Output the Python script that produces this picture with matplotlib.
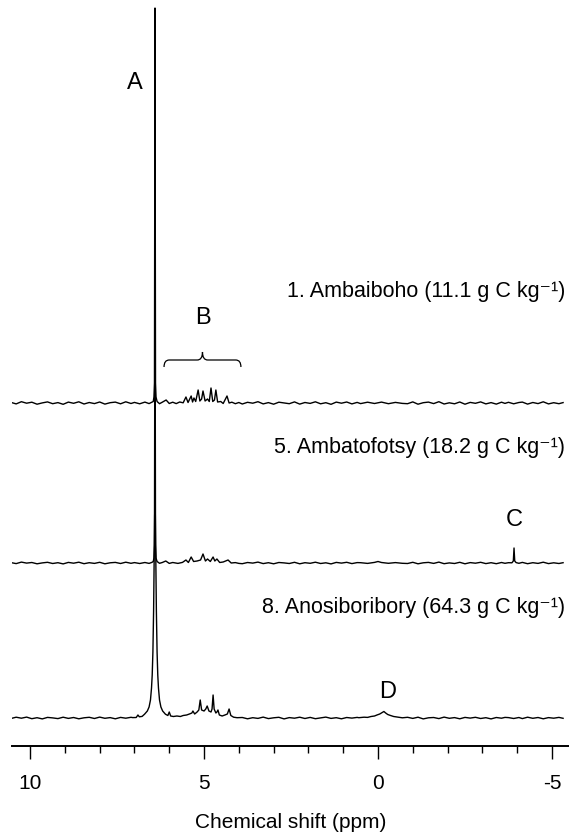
import numpy as np
import matplotlib
matplotlib.use("Agg")
import matplotlib.pyplot as plt
from matplotlib.ticker import MultipleLocator
from matplotlib.path import Path
from matplotlib.patches import PathPatch

plt.rcParams['font.family'] = ['Liberation Sans', 'DejaVu Sans']
plt.rcParams['axes.unicode_minus'] = False

# шумовая базовая линия (общие точки по ppm вне областей пиков)
base_ppm = [10.55, 10.4, 10.25, 10.1, 9.95, 9.8, 9.65, 9.5, 9.35, 9.2, 9.05, 8.9,
            8.75, 8.6, 8.45, 8.3, 8.15, 8.0, 7.85, 7.7, 7.55, 7.4, 7.25, 7.1,
            3.9, 3.75, 3.6, 3.45, 3.3, 3.15, 3.0, 2.85, 2.7, 2.55, 2.4, 2.25,
            2.1, 1.95, 1.8, 1.65, 1.5, 1.35, 1.2, 1.05, 0.9, 0.75, 0.6,
            -0.85, -1.0, -1.15, -1.3, -1.45, -1.6, -1.75, -1.9, -2.05, -2.2,
            -2.35, -2.5, -2.65, -2.8, -2.95, -3.1, -3.25, -3.4, -3.55, -3.65,
            -4.15, -4.3, -4.45, -4.6, -4.75, -4.9, -5.05, -5.2, -5.32]

base_1 = [0.6, -0.9, 1.3, -0.2, 0.8, -1.2, 0.1, 1.1, -0.7, 0.4, -1.3, 0.9,
          -0.3, 1.2, -1.0, 0.5, -0.6, 1.0, -1.1, 0.3, 0.9, -0.8, 1.2, -0.5,
          -1.0, 0.7, -0.2, 1.3, -0.9, 0.4, -1.2, 0.8, 0.1, -0.7, 1.1, -1.1,
          0.5, -0.4, 1.2, -0.8, 0.3, -1.3, 0.9, -0.2, 1.0, -0.9, 0.6,
          -0.7, 1.1, -1.2, 0.3, 0.9, -0.6, 1.3, -1.0, 0.2, -0.8,
          1.0, -1.2, 0.6, -0.3, 1.1, -0.9, 0.4, -1.1, 0.8, -0.4,
          0.9, -1.1, 0.5, -0.6, 1.2, -0.9, 0.3, -0.7, 0.4]
base_2 = [0.4, -0.6, 0.9, -0.1, 0.5, -0.8, 0.1, 0.7, -0.5, 0.3, -0.9, 0.6,
          -0.2, 0.8, -0.7, 0.3, -0.4, 0.7, -0.8, 0.2, 0.6, -0.5, 0.8, -0.3,
          -0.7, 0.5, -0.1, 0.9, -0.6, 0.3, -0.8, 0.5, 0.1, -0.5, 0.7, -0.8,
          0.3, -0.3, 0.8, -0.5, 0.2, -0.9, 0.6, -0.1, 0.7, -0.6, 0.4,
          -0.5, 0.7, -0.8, 0.2, 0.6, -0.4, 0.9, -0.7, 0.1, -0.5,
          0.7, -0.8, 0.4, -0.2, 0.7, -0.6, 0.3, -0.7, 0.5, -0.3,
          0.6, -0.7, 0.3, -0.4, 0.8, -0.6, 0.2, -0.5, 0.3]
base_3 = [-0.5, 0.8, -0.2, 0.9, -0.7, 0.3, -0.9, 0.6, 0.1, -0.6, 0.8, -0.4,
          0.5, -0.8, 0.2, 0.7, -0.5, 0.9, -0.3, 0.4, -0.8, 0.6, -0.2, 0.7,
          0.5, -0.8, 0.3, -0.4, 0.9, -0.6, 0.2, 0.7, -0.9, 0.4, -0.2, 0.8,
          -0.5, 0.6, -0.7, 0.1, 0.9, -0.4, 0.3, -0.8, 0.5, -0.1, 0.6,
          0.7, -0.4, 0.8, -0.9, 0.2, 0.5, -0.6, 0.9, -0.3, 0.4,
          -0.8, 0.6, -0.1, 0.7, -0.5, 0.3, -0.9, 0.5, -0.2, 0.6,
          -0.6, 0.8, -0.3, 0.5, -0.8, 0.4, -0.2, 0.6, -0.3]

# 1. Ambaiboho: пики A, B
peak_ppm_1 = [7.0, 6.85, 6.7, 6.58, 6.5, 6.46, 6.44, 6.425, 6.41, 6.395, 6.38, 6.35,
              6.28, 6.2, 6.09, 6.0, 5.9, 5.8, 5.7, 5.6, 5.52, 5.46, 5.37, 5.33,
              5.29, 5.24, 5.17, 5.12, 5.07, 5.03, 4.97, 4.9, 4.85, 4.8, 4.75, 4.7,
              4.66, 4.61, 4.52, 4.45, 4.34, 4.28, 4.2, 4.1, 4.0,
              0.5, 0.3, 0.1, -0.1, -0.3, -0.5, -0.7,
              -3.75, -3.9, -4.05]
peak_int_1 = [0.6, -0.8, 0.9, -0.6, 0.8, 1.5, 6, 20, 395, 20, 6, 1.5,
              -0.7, 0.8, 3, -0.5, 0.8, -0.6, 1.0, 0.2, 6, 0.5, 7, 1,
              5, 1.5, 13, 2, 4, 12, 2, 4, 1.5, 15, 1.5, 3,
              13, 1, 1.5, -0.5, 7, 0, 0.8, -0.7, 0.5,
              -0.6, 0.8, -0.5, 0.9, -0.7, 0.6, -0.4,
              0.7, -0.8, 0.5]

# 5. Ambatofotsy: пики A, B, C
peak_ppm_2 = [7.0, 6.85, 6.7, 6.58, 6.5, 6.46, 6.44, 6.425, 6.41, 6.395, 6.38, 6.35,
              6.28, 6.2, 6.1, 6.0, 5.9, 5.75, 5.62, 5.52, 5.45, 5.37, 5.3, 5.2,
              5.1, 5.03, 4.96, 4.9, 4.82, 4.74, 4.69, 4.63, 4.55, 4.45, 4.31, 4.22,
              4.1, 4.0,
              0.5, 0.3, 0.1, 0.0, -0.1, -0.3, -0.5, -0.7,
              -3.75, -3.85, -3.89, -3.91, -3.93, -3.97, -4.05]
peak_int_2 = [0.4, -0.5, 0.5, -0.4, 0.6, 1.5, 5, 18, 333, 18, 5, 1.5,
              -0.3, 0.5, 2, -0.4, 0.5, -0.4, 0.6, 3, 0.5, 6, 1.5, 2,
              3, 9, 2, 4, 1.5, 6, 2, 4, 0.5, 1, 3, 0,
              0.4, -0.4,
              0.3, -0.4, 0.6, 1.5, 0.5, -0.3, 0.4, -0.3,
              0.3, 0.2, 2, 15, 2, 0.4, -0.3]

# 8. Anosiboribory: широкий пик A, B, D
peak_ppm_3 = [7.05, 6.95, 6.9, 6.86, 6.78, 6.71, 6.63, 6.58, 6.54, 6.51, 6.49, 6.47,
              6.45, 6.44, 6.43, 6.42, 6.41, 6.40, 6.39, 6.38, 6.37, 6.35, 6.33, 6.31,
              6.28, 6.24, 6.19, 6.11, 6.04, 6.0, 5.96, 5.88, 5.78, 5.68, 5.6, 5.5,
              5.42, 5.35, 5.32, 5.27, 5.2, 5.15, 5.11, 5.07, 5.0, 4.95, 4.91, 4.86,
              4.8, 4.77, 4.74, 4.71, 4.66, 4.63, 4.6, 4.56, 4.48, 4.4, 4.33, 4.28,
              4.23, 4.15, 4.05,
              0.55, 0.4, 0.3, 0.2, 0.1, 0.03, -0.05, -0.12, -0.17, -0.22, -0.28,
              -0.36, -0.45, -0.55, -0.7,
              -3.75, -3.9, -4.05]
peak_int_3 = [0.4, 0.5, 3, 1.2, 1.6, 3.8, 7, 11, 18, 30, 43, 66,
              107, 138, 172, 202, 215, 202, 172, 138, 107, 66, 43, 30,
              18, 11, 7, 3.8, 2.5, 6, 2, 1.5, 2, 1.5, 2.5, 3,
              4, 5, 7, 4, 6, 8, 18, 8, 7, 9, 12, 7,
              6, 9, 23, 9, 5, 6, 8, 3, 2, 3, 4, 9,
              2.5, 0.8, 0.3,
              0.3, 0.8, 0.6, 1.5, 2, 3, 4, 5.5, 6.5, 5, 3.5,
              2.5, 1.5, 1, 0.2,
              0.4, -0.5, 0.5]

sample_labels = ['1. Ambaiboho (11.1 g C kg⁻¹)',
                 '5. Ambatofotsy (18.2 g C kg⁻¹)',
                 '8. Anosiboribory (64.3 g C kg⁻¹)']

# отметки пиков: буква, ppm, высота над осью
peak_letters = ['A', 'B', 'C', 'D']
letter_ppm = [6.98, 5.03, -3.93, -0.29]
letter_y = [663, 428, 226, 54]
brace_ppm = [6.15, 3.94]

offsets = [343, 183, 28]
label_y = [454, 298, 138]

fig = plt.figure(figsize=(5.69, 8.33), dpi=100)
ax = fig.add_axes([12 / 569, 87 / 833, 557 / 569, 746 / 833])

traces = [(peak_ppm_1, peak_int_1, base_1),
          (peak_ppm_2, peak_int_2, base_2),
          (peak_ppm_3, peak_int_3, base_3)]

for (pp, pi, bi), off in zip(traces, offsets):
    x = np.array(base_ppm + pp)
    y = np.array(bi + pi)
    order = np.argsort(-x)
    ax.plot(x[order], y[order] + off, color='black', lw=1.0)

for lab, ly in zip(sample_labels, label_y):
    ax.text(0.993, ly, lab, transform=ax.get_yaxis_transform(), ha='right', va='center',
            fontsize=15.5)

for let, lx, ly in zip(peak_letters, letter_ppm, letter_y):
    ax.text(lx, ly, let, ha='center', va='center', fontsize=17)

# фигурная скобка над областью B
x0, x1 = brace_ppm
xc = (x0 + x1) / 2
y_end, y_arm, y_tip = 379, 386, 394
d = 0.15
verts = [(x0, y_end), (x0, y_arm), (x0 - d, y_arm),
         (xc + d, y_arm), (xc, y_arm), (xc, y_tip),
         (xc, y_arm), (xc - d, y_arm),
         (x1 + d, y_arm), (x1, y_arm), (x1, y_end)]
codes = [Path.MOVETO, Path.CURVE3, Path.CURVE3,
         Path.LINETO, Path.CURVE3, Path.CURVE3,
         Path.CURVE3, Path.CURVE3,
         Path.LINETO, Path.CURVE3, Path.CURVE3]
ax.add_patch(PathPatch(Path(verts, codes), fill=False, lw=0.9, color='black'))

ax.set_xlim(10.52, -5.49)
ax.set_ylim(0, 746)
for s in ['top', 'left', 'right']:
    ax.spines[s].set_visible(False)
ax.spines['bottom'].set_linewidth(1.4)
ax.set_yticks([])
ax.xaxis.set_major_locator(MultipleLocator(5))
ax.xaxis.set_minor_locator(MultipleLocator(1))
ax.tick_params(axis='x', which='major', direction='out', length=9.4, width=1.0,
               pad=11, labelsize=15)
ax.tick_params(axis='x', which='minor', direction='out', length=4.7, width=1.0)
ax.set_xlabel('Chemical shift (ppm)', fontsize=15, labelpad=14)

fig.savefig('out.png', dpi=100)
